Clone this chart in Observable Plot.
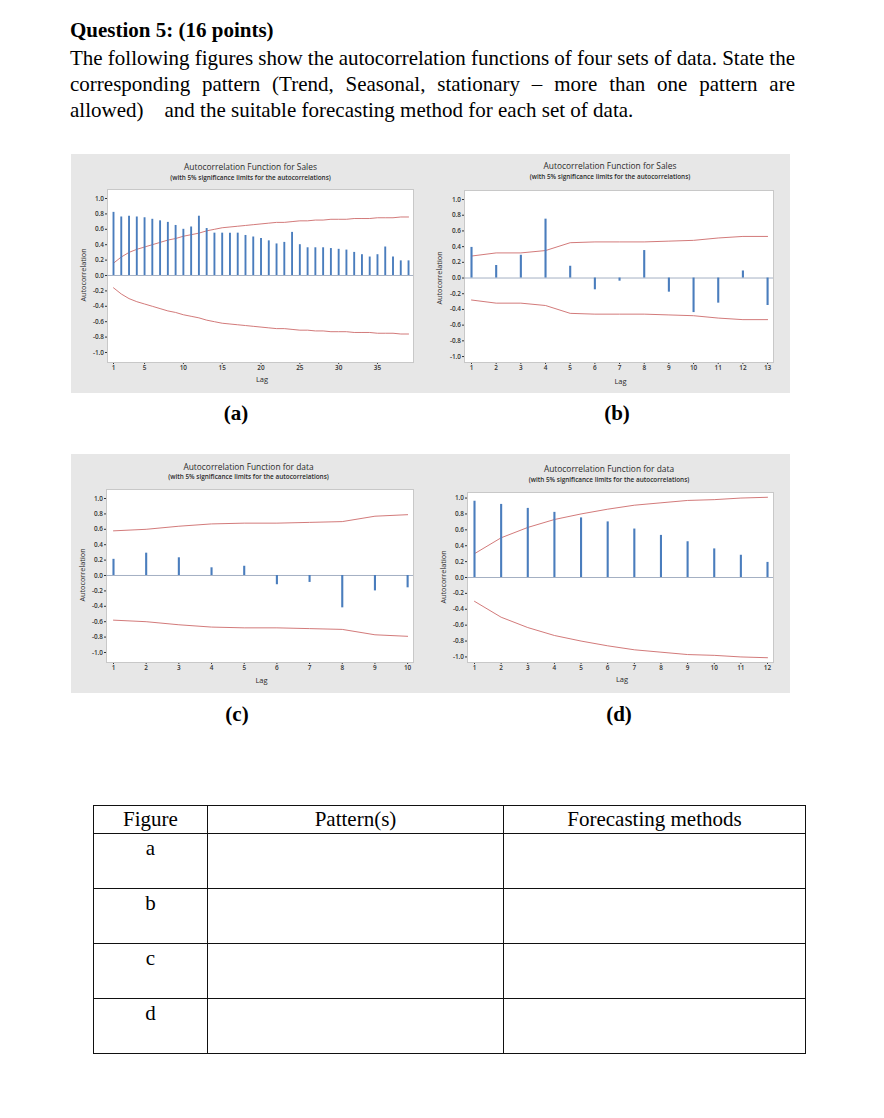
<!DOCTYPE html>
<html>
<head>
<meta charset="utf-8">
<script src="https://cdn.jsdelivr.net/npm/d3@7"></script>
<script src="https://cdn.jsdelivr.net/npm/@observablehq/plot@0.6"></script>
<style>
  body { margin: 0; background: #fff; }
  #page { position: relative; width: 884px; height: 1118px; overflow: hidden;
          font-family: "Liberation Serif", "Times New Roman", serif; color: #000; }
  .ln { position: absolute; left: 70px; font-size: 21px; line-height: 21px; white-space: nowrap; }
  .panel { position: absolute; background: #e7e7e7; }
  .panel svg { position: absolute; left: 0; top: 0; }
  .ctitle { position: absolute; left: 0; right: 0; text-align: center; white-space: nowrap;
            font-family: "Open Sans", sans-serif; color: #2b2b2b; }
  .t1 { font-size: 8.4px; }
  .t2 { font-size: 6.4px; font-weight: 600; }
  .xl { position: absolute; font-family: "Open Sans", sans-serif; font-size: 7.5px; color: #2b2b2b;
        transform: translate(-50%, -50%); white-space: nowrap; }
  .yl { position: absolute; font-family: "Open Sans", sans-serif; font-size: 7.3px; color: #2b2b2b;
        transform: translate(-50%, -50%) rotate(-90deg); white-space: nowrap; }
  .sub { position: absolute; font-weight: bold; font-size: 21px; line-height: 21px;
         transform: translate(-50%, -50%); }
  table.ans { position: absolute; left: 93px; top: 805px; border-collapse: collapse;
              font-size: 21px; table-layout: fixed; width: 712px; }
  table.ans td { border: 1.3px solid #111; padding: 0; text-align: center; line-height: 21px; }
  table.ans tr.h td { height: 27px; vertical-align: middle; }
  table.ans tr.r td { height: 55px; vertical-align: top; padding-top: 4px; box-sizing: border-box; }
</style>
</head>
<body>
<div id="page">
  <div class="ln" style="top:20px;font-weight:bold;">Question 5: (16 points)</div>
  <div class="ln" id="l2" style="top:48px;"><span>The following figures show the autocorrelation functions of four sets of data. State the</span></div>
  <div class="ln" id="l3" style="top:74px;"><span>corresponding pattern (Trend, Seasonal, stationary – more than one pattern are</span></div>
  <div class="ln" style="top:100px;">allowed)<span style="margin-left:21px;">and the suitable forecasting method for each set of data.</span></div>

  <div class="sub" style="left:236px;top:413px;">(a)</div>
  <div class="sub" style="left:617px;top:413px;">(b)</div>
  <div class="sub" style="left:237px;top:714px;">(c)</div>
  <div class="sub" style="left:619px;top:714px;">(d)</div>

  <table class="ans">
    <colgroup><col style="width:114px"><col style="width:296px"><col style="width:302px"></colgroup>
    <tr class="h"><td>Figure</td><td>Pattern(s)</td><td>Forecasting methods</td></tr>
    <tr class="r"><td>a</td><td></td><td></td></tr>
    <tr class="r"><td>b</td><td></td><td></td></tr>
    <tr class="r"><td>c</td><td></td><td></td></tr>
    <tr class="r"><td>d</td><td></td><td></td></tr>
  </table>
</div>
<script>
// ---------- data ----------
const yTickValues = [-1, -0.8, -0.6, -0.4, -0.2, 0, 0.2, 0.4, 0.6, 0.8, 1];

const lagsA = [1,2,3,4,5,6,7,8,9,10,11,12,13,14,15,16,17,18,19,20,21,22,23,24,25,26,27,28,29,30,31,32,33,34,35,36,37,38,39];
const acfA  = [0.82,0.76,0.77,0.76,0.75,0.73,0.71,0.69,0.65,0.60,0.63,0.77,0.61,0.55,0.55,0.55,0.55,0.52,0.50,0.48,
               0.45,0.41,0.43,0.56,0.40,0.36,0.36,0.36,0.35,0.34,0.33,0.30,0.27,0.24,0.27,0.37,0.24,0.19,0.19];
const limA  = [0.16,0.24,0.30,0.34,0.37,0.40,0.43,0.46,0.48,0.51,0.53,0.55,0.58,0.60,0.62,0.63,0.64,0.65,0.66,0.67,
               0.68,0.69,0.69,0.70,0.71,0.71,0.72,0.72,0.73,0.73,0.73,0.74,0.74,0.74,0.75,0.75,0.75,0.76,0.76];
const xTicksA = [1, 5, 10, 15, 20, 25, 30, 35];

const lagsB = [1,2,3,4,5,6,7,8,9,10,11,12,13];
const acfB  = [0.39,0.16,0.29,0.75,0.15,-0.15,-0.04,0.35,-0.18,-0.44,-0.32,0.09,-0.35];
const limB  = [0.28,0.32,0.32,0.35,0.45,0.46,0.46,0.46,0.47,0.48,0.51,0.53,0.53];
const xTicksB = [1,2,3,4,5,6,7,8,9,10,11,12,13];

const lagsC = [1,2,3,4,5,6,7,8,9,10];
const acfC  = [0.21,0.29,0.23,0.10,0.12,-0.12,-0.09,-0.42,-0.20,-0.16];
const limC  = [0.58,0.60,0.64,0.67,0.68,0.68,0.69,0.70,0.77,0.79];
const xTicksC = [1,2,3,4,5,6,7,8,9,10];

const lagsD = [1,2,3,4,5,6,7,8,9,10,11,12];
const acfD  = [0.96,0.92,0.87,0.82,0.75,0.70,0.61,0.53,0.45,0.36,0.28,0.19];
const limD  = [0.30,0.50,0.63,0.73,0.80,0.86,0.91,0.94,0.97,0.98,1.00,1.01];
const xTicksD = [1,2,3,4,5,6,7,8,9,10,11,12];

const titleSales = "Autocorrelation Function for Sales";
const titleData = "Autocorrelation Function for data";
const subtitle = "(with 5% significance limits for the autocorrelations)";

// ---------- layout ----------
const charts = [
  {lags: lagsA, acf: acfA, lim: limA, ticks: xTicksA, title: titleSales,
   left: 71, top: 154, w: 353, h: 239, ml: 36, mr: 11, mt: 35, mb: 31,
   xd: [0.227, 39.64], yd: [-1.13, 1.117], tY: 13, sY: 24, lagY: 225, ylX: 12, tdx: 3, bw: 1.9},
  {lags: lagsB, acf: acfB, lim: limB, ticks: xTicksB, title: titleSales,
   left: 424, top: 154, w: 366, h: 239, ml: 40, mr: 17, mt: 36, mb: 31,
   xd: [0.716, 13.24], yd: [-1.076, 1.115], tY: 12, sY: 23, lagY: 227, ylX: 15, tdx: 3, bw: 2.1},
  {lags: lagsC, acf: acfC, lim: limC, ticks: xTicksC, title: titleData,
   left: 71, top: 454, w: 353, h: 239, ml: 35, mr: 11, mt: 35, mb: 31,
   xd: [0.786, 10.18], yd: [-1.13, 1.117], tY: 13, sY: 23, lagY: 226, ylX: 11, tdx: 1, bw: 2.1},
  {lags: lagsD, acf: acfD, lim: limD, ticks: xTicksD, title: titleData,
   left: 424, top: 454, w: 366, h: 239, ml: 43, mr: 17, mt: 38, mb: 31,
   xd: [0.737, 12.225], yd: [-1.07, 1.07], tY: 15, sY: 26, lagY: 225, ylX: 19, tdx: 2, bw: 2.1}
];

const page = document.getElementById("page");
for (const c of charts) {
  const data = c.lags.map((lag, i) => ({lag, acf: c.acf[i], lim: c.lim[i]}));
  const svg = Plot.plot({
    width: c.w, height: c.h,
    marginLeft: c.ml, marginRight: c.mr, marginTop: c.mt, marginBottom: c.mb,
    style: {background: "transparent", fontFamily: "'Open Sans', sans-serif", fontSize: "6.4px", color: "#333"},
    x: {domain: c.xd, ticks: c.ticks, tickFormat: d => String(d), tickSize: 2, tickPadding: 1, label: null},
    y: {domain: c.yd, ticks: yTickValues, tickFormat: d => d.toFixed(1), tickSize: 2, tickPadding: 1.5, label: null},
    marks: [
      Plot.frame({fill: "#ffffff", stroke: "#c8c8c8"}),
      Plot.ruleY([0], {stroke: "#8d9cb4", strokeWidth: 0.8}),
      Plot.line(data, {x: "lag", y: "lim", stroke: "#cd6b6b", strokeWidth: 0.9}),
      Plot.line(data, {x: "lag", y: d => -d.lim, stroke: "#cd6b6b", strokeWidth: 0.9}),
      Plot.ruleX(data, {x: "lag", y1: 0, y2: "acf", stroke: "#4a7dbd", strokeWidth: c.bw})
    ]
  });
  svg.style.fontWeight = "600";
  const panel = document.createElement("div");
  panel.className = "panel";
  Object.assign(panel.style, {left: c.left + "px", top: c.top + "px", width: c.w + "px", height: c.h + "px"});
  panel.appendChild(svg);
  const t1 = document.createElement("div");
  t1.className = "ctitle t1"; t1.textContent = c.title;
  Object.assign(t1.style, {top: (c.tY - 6) + "px", paddingLeft: (2 * c.tdx) + "px"});
  const t2 = document.createElement("div");
  t2.className = "ctitle t2"; t2.textContent = subtitle;
  Object.assign(t2.style, {top: (c.sY - 5) + "px", paddingLeft: (2 * c.tdx) + "px"});
  const xl = document.createElement("div");
  xl.className = "xl"; xl.textContent = "Lag";
  Object.assign(xl.style, {left: (c.ml + (c.w - c.ml - c.mr) / 2 + 2) + "px", top: c.lagY + "px"});
  const y0 = c.mt + (c.h - c.mt - c.mb) * (c.yd[1] / (c.yd[1] - c.yd[0]));
  const yl = document.createElement("div");
  yl.className = "yl"; yl.textContent = "Autocorrelation";
  Object.assign(yl.style, {left: c.ylX + "px", top: y0 + "px"});
  panel.append(t1, t2, xl, yl);
  page.appendChild(panel);
}

// justify the two full lines of the question text to 725px
for (const id of ["l2", "l3"]) {
  const span = document.querySelector("#" + id + " span");
  const w = span.getBoundingClientRect().width;
  const spaces = (span.textContent.match(/ /g) || []).length;
  span.style.wordSpacing = ((725 - w) / spaces) + "px";
}
</script>
</body>
</html>
